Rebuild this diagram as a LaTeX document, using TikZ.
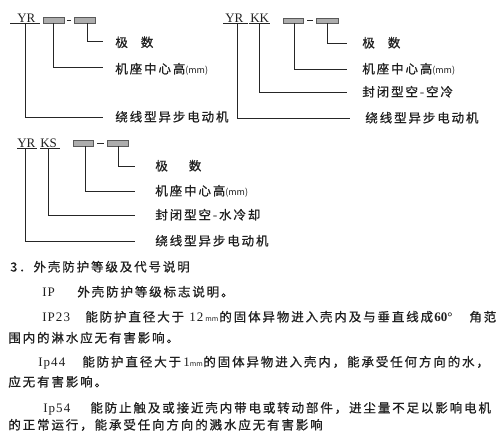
\documentclass[tikz,border=0pt]{standalone}
\usepackage{fontspec}
\setmainfont{Liberation Serif}
\newfontfamily\cjk[LetterSpace=15,FakeBold=0.8]{Noto Sans CJK SC}
\newfontfamily\cjkmm{Noto Sans CJK SC}
\newfontfamily\latsp[LetterSpace=8]{Liberation Serif}
\begin{document}
\begin{tikzpicture}[x=1pt,y=-1pt,line width=0.7pt,
  lbl/.style={anchor=base west,inner sep=0,text=black!88,font=\fontsize{12.5}{12.5}\cjk},
  lat/.style={anchor=base west,inner sep=0,text=black!88,font=\fontsize{13}{13}\selectfont},
  latb/.style={anchor=base west,inner sep=0,text=black!88,font=\fontsize{13}{13}\latsp},
  mmt/.style={anchor=base west,inner sep=0,text=black!88,font=\fontsize{7}{7}\cjkmm},
  gbox/.style={draw=black!65,fill=black!32,line width=0.6pt,inner sep=0,minimum height=6pt},
  conn/.style={draw=black!85,line width=0.7pt}]
\useasboundingbox (0,0) rectangle (500,440);

% ---------- diagram 1 ----------
\node[lat] (yr1) at (17,22) {YR};
\coordinate (u1a) at (10,23); \coordinate (u1b) at (40,23);
\draw[conn] (u1a) -- (u1b);
\node[gbox,minimum width=21pt] (b1a) at (53.5,20) {};
\node[gbox,minimum width=21pt] (b1b) at (84.5,20) {};
\coordinate (d1a) at (66.5,20); \coordinate (d1b) at (70.5,20);
\draw[conn] (d1a) -- (d1b);
\coordinate (e1a) at (103,41); \coordinate (e1b) at (103,67); \coordinate (e1c) at (103,117);
\coordinate (s1c) at (25,23);
\draw[conn] ([xshift=2.5pt]b1b.south) |- (e1a);
\draw[conn] ([xshift=-0.5pt]b1a.south) |- (e1b);
\draw[conn] (s1c) |- (e1c);
\node[lbl] (l1a) at (115,47) {极\hspace{13pt}数};
\node[lbl] (l1b) at (115,73.5) {机座中心高{\fontsize{9}{9}\cjkmm(mm)}};
\node[lbl] (l1c) at (115,121.5) {绕线型异步电动机};

% ---------- diagram 2 ----------
\node[lat] (yr2) at (225,22) {YR};
\node[lat] (kk2) at (250,22) {KK};
\coordinate (u2a) at (223,23); \coordinate (u2b) at (248,23);
\coordinate (u2c) at (249,23); \coordinate (u2d) at (270,23);
\draw[conn] (u2a) -- (u2b);
\draw[conn] (u2c) -- (u2d);
\node[gbox,minimum width=20pt,minimum height=5pt] (b2a) at (293,20.5) {};
\node[gbox,minimum width=22pt,minimum height=5pt] (b2b) at (327,20.5) {};
\coordinate (d2a) at (307,20.5); \coordinate (d2b) at (313,20.5);
\draw[conn] (d2a) -- (d2b);
\coordinate (e2a) at (347,43); \coordinate (e2b) at (347,69);
\coordinate (e2c) at (347,92); \coordinate (e2d) at (350,118);
\coordinate (s2c) at (259,23); \coordinate (s2d) at (237,23);
\draw[conn] (b2b.south) |- (e2a);
\draw[conn] ([xshift=1pt]b2a.south) |- (e2b);
\draw[conn] (s2c) |- (e2c);
\draw[conn] (s2d) |- (e2d);
\node[lbl] (l2a) at (362,47.5) {极\hspace{13pt}数};
\node[lbl] (l2b) at (362,73.5) {机座中心高{\fontsize{9}{9}\cjkmm(mm)}};
\node[lbl] (l2c) at (362,96.5) {封闭型空-空冷};
\node[lbl] (l2d) at (365,122.5) {绕线型异步电动机};

% ---------- diagram 3 ----------
\node[lat] (yr3) at (17,147) {YR};
\node[lat] (ks3) at (40,147) {KS};
\coordinate (u3a) at (17,148); \coordinate (u3b) at (37,148);
\coordinate (u3c) at (40,148); \coordinate (u3d) at (60,148);
\draw[conn] (u3a) -- (u3b);
\draw[conn] (u3c) -- (u3d);
\node[gbox,minimum width=20pt] (b3a) at (83,143) {};
\node[gbox,minimum width=21pt] (b3b) at (117.5,143) {};
\coordinate (d3a) at (97,143); \coordinate (d3b) at (104,143);
\draw[conn] (d3a) -- (d3b);
\coordinate (e3a) at (135,166); \coordinate (e3b) at (135,191);
\coordinate (e3c) at (135,215); \coordinate (e3d) at (135,241);
\coordinate (s3c) at (48,148); \coordinate (s3d) at (25,148);
\draw[conn] ([xshift=0.5pt]b3b.south) |- (e3a);
\draw[conn] ([xshift=2pt]b3a.south) |- (e3b);
\draw[conn] (s3c) |- (e3c);
\draw[conn] (s3d) |- (e3d);
\node[lbl] (l3a) at (155,170.5) {极\hspace{21pt}数};
\node[lbl] (l3b) at (155,195.5) {机座中心高{\fontsize{9}{9}\cjkmm(mm)}};
\node[lbl] (l3c) at (155,219.5) {封闭型空-水冷却};
\node[lbl] (l3d) at (155,245.5) {绕线型异步电动机};

% ---------- text ----------
\node[lbl] (t1) at (10,271.5) {3．外壳防护等级及代号说明};
\node[latb] (t2a) at (42,296.5) {IP};
\node[lbl] (t2b) at (77,296.5) {外壳防护等级标志说明。};
\node[latb] (t3a) at (42,321.5) {IP23};
\node[lbl] (t3b) at (85,321.5) {能防护直径大于};
\node[latb] (t3c) at (189,321.5) {12};
\node[mmt] (t3d) at (205,321.5) {mm};
\node[lbl] (t3e) at (219,321.5) {的固体异物进入壳内及与垂直线成};
\node[lat] (t3f) at (434,321.5) {\textbf{60°}};
\node[lbl] (t3g) at (469,321.5) {角范};
\node[lbl] (t4) at (8,342.5) {围内的淋水应无有害影响。};
\node[latb] (t5a) at (38,366.5) {Ip44};
\node[lbl] (t5b) at (82,366.5) {能防护直径大于};
\node[lat] (t5c) at (183,366.5) {1};
\node[mmt] (t5d) at (189.5,366.5) {mm};
\node[lbl] (t5e) at (203,366.5) {的固体异物进入壳内，能承受任何方向的水，};
\node[lbl] (t6) at (8,386.5) {应无有害影响。};
\node[latb] (t7a) at (43,412.5) {Ip54};
\node[lbl] (t7b) at (90,412.5) {能防止触及或接近壳内带电或转动部件，进尘量不足以影响电机};
\node[lbl] (t8) at (8,429.5) {的正常运行，能承受任向方向的溅水应无有害影响};
\end{tikzpicture}
\end{document}
